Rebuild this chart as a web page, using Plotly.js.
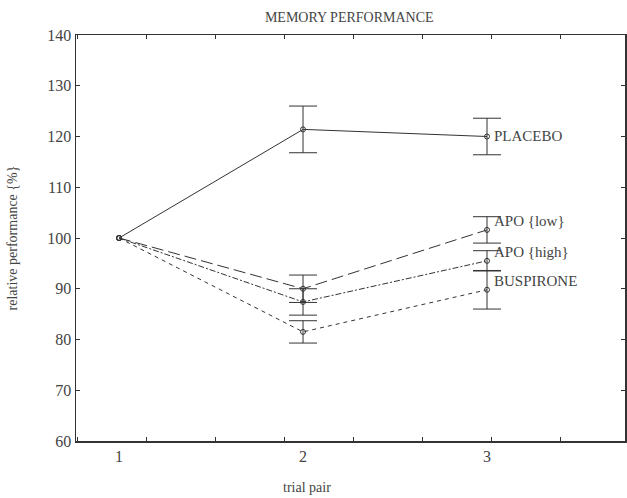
<!DOCTYPE html>
<html>
<head>
<meta charset="utf-8">
<script src="https://cdn.plot.ly/plotly-3.0.1.min.js"></script>
<style>html,body{margin:0;padding:0;background:#fff;}</style>
</head>
<body>
<div id="chart" style="width:627px;height:498px;"></div>
<script>
// ---- data ----
const trials = [1, 2, 3];
const seriesNames = ["PLACEBO", "APO {low}", "APO {high}", "BUSPIRONE"];
const placebo = [100, 121.4, 120.0];
const apoLow = [100, 90.0, 101.6];
const apoHigh = [100, 87.4, 95.5];
const buspirone = [100, 81.5, 89.8];
// error bars exist for trial pairs 2 and 3 only
const errTrials = [2, 3];
const placeboErr = [4.6, 3.6];
const apoLowErr = [2.7, 2.6];
const apoHighErr = [2.6, 2.0];
const buspironeErr = [2.2, 3.8];
const xTickLabels = ["1", "2", "3"];

// ---- styling ----
const ink = "#333";
const font = "Liberation Serif, Times New Roman, serif";
const dashes = ["solid", "12px,5px", "6px,2px,2px,2px", "4px,4px"];
const labelShift = [1, 9, 9, 9];

const values = [placebo, apoLow, apoHigh, buspirone];
const errs = [placeboErr, apoLowErr, apoHighErr, buspironeErr];

const traces = [];
values.forEach((v, i) => {
  traces.push({
    x: trials, y: v, name: seriesNames[i], type: "scatter", mode: "lines+markers",
    line: {color: ink, width: 1, dash: dashes[i]},
    marker: {symbol: "circle-open", size: 5, color: ink, line: {width: 1, color: ink}},
    showlegend: false
  });
  traces.push({
    x: errTrials, y: errTrials.map(t => v[trials.indexOf(t)]),
    type: "scatter", mode: "markers", marker: {size: 1, color: "rgba(0,0,0,0)"},
    error_y: {type: "data", array: errs[i], visible: true, color: ink, thickness: 1, width: 14},
    showlegend: false, hoverinfo: "skip"
  });
});

const annotations = values.map((v, i) => ({
  x: trials[trials.length - 1],
  y: v[v.length - 1],
  xref: "x", yref: "y",
  text: seriesNames[i],
  showarrow: false,
  xanchor: "left",
  yanchor: "middle",
  xshift: 5,
  yshift: labelShift[i],
  font: {family: font, size: 15, color: "#444"}
}));
annotations.push({
  x: 0.42, y: -0.115, xref: "paper", yref: "paper",
  text: "trial pair", showarrow: false, xanchor: "center", yanchor: "middle",
  font: {family: font, size: 14, color: "#444"}
});

const layout = {
  width: 627, height: 498,
  margin: {l: 76, r: 2, t: 35, b: 57},
  paper_bgcolor: "#fff", plot_bgcolor: "#fff",
  title: {text: "MEMORY PERFORMANCE", font: {family: font, size: 14, color: "#444"},
          x: 0.557, xanchor: "center", y: 0.965, yanchor: "middle"},
  xaxis: {
    range: [0.766, 3.75],
    tickmode: "array", tickvals: trials, ticktext: xTickLabels,
    ticks: "inside", ticklen: 0,
    minor: {tickmode: "linear", tick0: 1.147, dtick: 0.375, ticks: "inside", ticklen: 4, tickcolor: ink},
    showline: true, linecolor: ink, linewidth: 1.5, mirror: "allticks",
    showgrid: false, zeroline: false,
    tickfont: {family: font, size: 16, color: "#444"}
  },
  yaxis: {
    range: [60, 140], dtick: 10, tick0: 60,
    ticks: "inside", ticklen: 4, tickcolor: ink,
    showline: true, linecolor: ink, linewidth: 1.5, mirror: "allticks",
    showgrid: false, zeroline: false,
    tickfont: {family: font, size: 16, color: "#444"},
    title: {text: "relative performance {%}", font: {family: font, size: 14, color: "#444"}, standoff: 26}
  },
  annotations: annotations
};

Plotly.newPlot("chart", traces, layout, {staticPlot: true, displayModeBar: false});
</script>
</body>
</html>
